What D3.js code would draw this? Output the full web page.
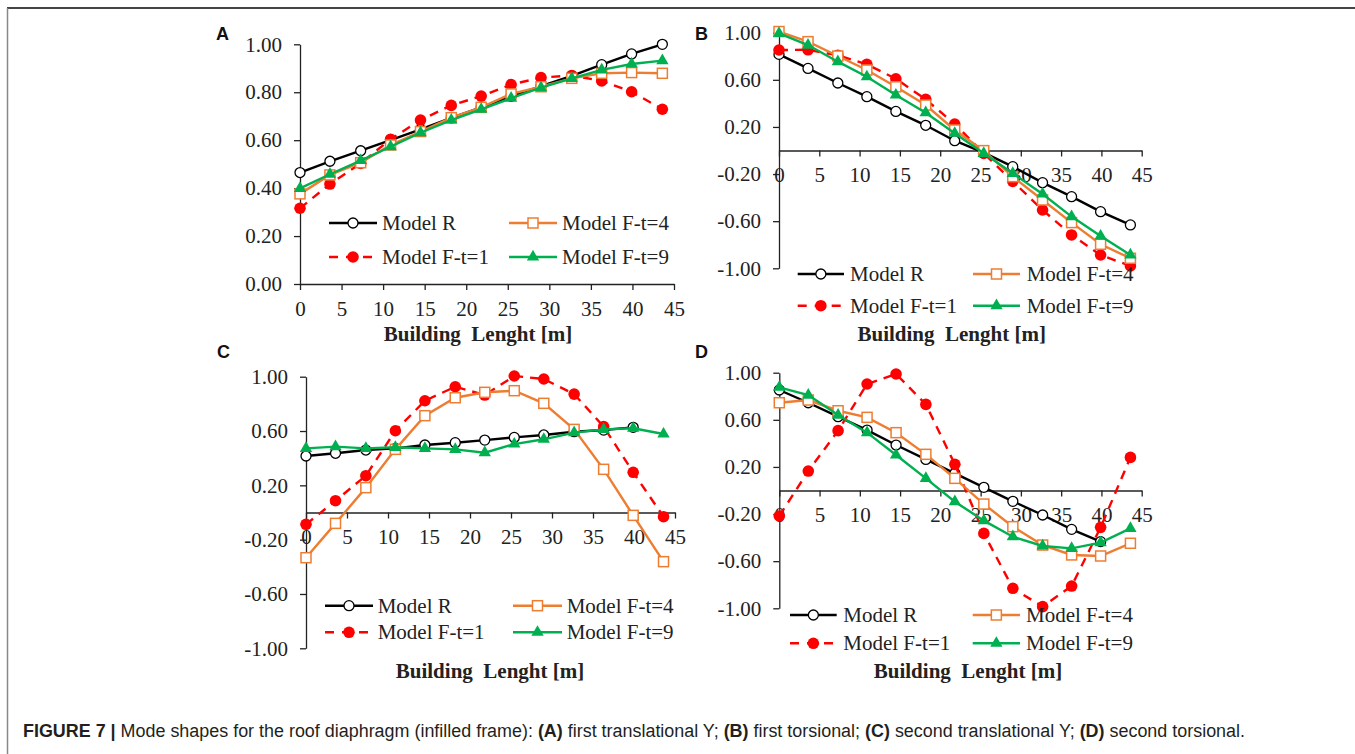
<!DOCTYPE html>
<html lang="en">
<head>
    <meta charset="UTF-8">
    <title>Mode shapes for the roof diaphragm</title>
    <script src="https://d3js.org/d3.v7.min.js"></script>
    <style>
        body { margin: 0; background: #fff; }
        svg { display: block; }
        .tick text { font-family: "Liberation Serif", "Times New Roman", serif; font-size: 21px; fill: #222; }
        .tick line, .domain { stroke: #222; stroke-width: 1.3; }
        .legend text { font-family: "Liberation Serif", "Times New Roman", serif; font-size: 21px; fill: #222; }
        .xlabel { font-family: "Liberation Serif", "Times New Roman", serif; font-size: 21px; font-weight: bold; fill: #222; }
        .letter { font-family: "Liberation Sans", Arial, sans-serif; font-size: 18px; font-weight: bold; fill: #111; }
    </style>
</head>
<body>
<div id="chart"></div>
<script>
// building length positions [m], shared by all four panels
const buildingLength = [0, 3.6, 7.3, 10.9, 14.5, 18.2, 21.8, 25.4, 29.0, 32.7, 36.3, 39.9, 43.6];
const xTicks = [0, 5, 10, 15, 20, 25, 30, 35, 40, 45];
const yTicksA = [0, 0.2, 0.4, 0.6, 0.8, 1.0];
const yTicksBCD = [-1.0, -0.6, -0.2, 0.2, 0.6, 1.0];
const seriesNames = ["Model R", "Model F-t=1", "Model F-t=4", "Model F-t=9"];

// (A) first translational Y
const aModelR  = [0.465, 0.512, 0.556, 0.600, 0.645, 0.693, 0.737, 0.783, 0.825, 0.868, 0.915, 0.960, 1.000];
const aModelF1 = [0.316, 0.417, 0.503, 0.604, 0.684, 0.745, 0.784, 0.832, 0.861, 0.870, 0.847, 0.802, 0.729];
const aModelF4 = [0.376, 0.455, 0.506, 0.580, 0.636, 0.694, 0.737, 0.793, 0.823, 0.858, 0.879, 0.882, 0.879];
const aModelF9 = [0.399, 0.458, 0.515, 0.573, 0.631, 0.684, 0.729, 0.775, 0.819, 0.858, 0.893, 0.918, 0.932];

// (B) first torsional
const bModelR  = [0.816, 0.697, 0.573, 0.457, 0.332, 0.214, 0.083, -0.018, -0.137, -0.273, -0.392, -0.519, -0.632];
const bModelF1 = [0.853, 0.855, 0.808, 0.731, 0.609, 0.434, 0.225, -0.024, -0.262, -0.505, -0.717, -0.887, -0.980];
const bModelF4 = [1.010, 0.924, 0.802, 0.683, 0.541, 0.386, 0.174, -0.001, -0.222, -0.420, -0.612, -0.796, -0.915];
const bModelF9 = [0.994, 0.895, 0.754, 0.626, 0.471, 0.321, 0.146, -0.024, -0.194, -0.369, -0.561, -0.726, -0.887];

// (C) second translational Y
const cModelR  = [0.416, 0.436, 0.460, 0.472, 0.497, 0.514, 0.533, 0.553, 0.571, 0.595, 0.607, 0.627];
const cModelF1 = [-0.087, 0.087, 0.271, 0.602, 0.823, 0.926, 0.865, 1.005, 0.983, 0.872, 0.632, 0.296, -0.031];
const cModelF4 = [-0.333, -0.080, 0.183, 0.465, 0.713, 0.845, 0.885, 0.897, 0.804, 0.612, 0.318, -0.021, -0.362];
const cModelF9 = [0.472, 0.485, 0.472, 0.480, 0.472, 0.465, 0.440, 0.504, 0.539, 0.588, 0.612, 0.620, 0.578];

// (D) second torsional
const dModelR  = [0.853, 0.745, 0.627, 0.513, 0.386, 0.264, 0.146, 0.027, -0.092, -0.208, -0.330, -0.434];
const dModelF1 = [-0.216, 0.165, 0.508, 0.904, 0.989, 0.731, 0.222, -0.364, -0.830, -0.986, -0.811, -0.313, 0.281];
const dModelF4 = [0.745, 0.768, 0.677, 0.621, 0.491, 0.307, 0.103, -0.115, -0.307, -0.463, -0.547, -0.556, -0.448];
const dModelF9 = [0.876, 0.810, 0.640, 0.491, 0.301, 0.103, -0.095, -0.256, -0.392, -0.471, -0.491, -0.443, -0.321];

const width = 1355, height = 754;

// plain hyphen for negatives, like the original labels
const locale = d3.formatLocale({ decimal: ".", thousands: ",", grouping: [3], currency: ["", ""], minus: "-" });
const yFormat = locale.format(".2f");

const svg = d3.select("#chart").append("svg")
    .attr("width", width)
    .attr("height", height);

svg.append("rect").attr("width", width).attr("height", height).attr("fill", "#fff");

// figure frame (top and left edges only visible)
svg.append("line").attr("x1", 7).attr("x2", width).attr("y1", 8).attr("y2", 8)
    .attr("stroke", "#444").attr("stroke-width", 2);
svg.append("line").attr("x1", 7.5).attr("x2", 7.5).attr("y1", 8).attr("y2", height)
    .attr("stroke", "#888").attr("stroke-width", 1.5);

// series styles
const styles = [
    { color: "#000000", marker: "circle", dash: null },
    { color: "#ff0000", marker: "dot", dash: "9,7" },
    { color: "#ed7d31", marker: "square", dash: null },
    { color: "#00b050", marker: "triangle", dash: null }
];

function drawMarker(g, type, color, cx, cy) {
    if (type === "circle") {
        g.append("circle").attr("cx", cx).attr("cy", cy).attr("r", 5)
            .attr("fill", "#fff").attr("stroke", color).attr("stroke-width", 1.3);
    } else if (type === "dot") {
        g.append("circle").attr("cx", cx).attr("cy", cy).attr("r", 5.8)
            .attr("fill", color);
    } else if (type === "square") {
        g.append("rect").attr("x", cx - 5).attr("y", cy - 5).attr("width", 10).attr("height", 10)
            .attr("fill", "#fff").attr("stroke", color).attr("stroke-width", 1.5);
    } else {
        g.append("path").attr("d", d3.symbol(d3.symbolTriangle, 66)())
            .attr("transform", `translate(${cx},${cy})`)
            .attr("fill", color);
    }
}

// panel layout
const panels = [
    { letter: "A", lx: 216, ly: 40, x0: 300, x1: 674, yTop: 44.3, yBot: 284, dom: [0, 1], ticks: yTicksA,
      series: [aModelR, aModelF1, aModelF4, aModelF9],
      legend: { rows: [223, 257], cols: [[329, 377, 382], [509, 557, 562]] }, title: [478, 341] },
    { letter: "B", lx: 695, ly: 40, x0: 779, x1: 1141.7, yTop: 32.7, yBot: 268.3, dom: [-1, 1], ticks: yTicksBCD,
      series: [bModelR, bModelF1, bModelF4, bModelF9],
      legend: { rows: [274, 305.7], cols: [[797.7, 844, 850], [973, 1020, 1026.7]] }, title: [951.7, 341] },
    { letter: "C", lx: 217, ly: 358, x0: 306, x1: 675, yTop: 376.7, yBot: 648.3, dom: [-1, 1], ticks: yTicksBCD,
      series: [cModelR, cModelF1, cModelF4, cModelF9],
      legend: { rows: [605.7, 632.3], cols: [[325, 373, 377.7], [513, 562, 566.7]] }, title: [490, 678] },
    { letter: "D", lx: 695, ly: 358, x0: 779.3, x1: 1141.7, yTop: 372.7, yBot: 608.3, dom: [-1, 1], ticks: yTicksBCD,
      series: [dModelR, dModelF1, dModelF4, dModelF9],
      legend: { rows: [615, 643.3], cols: [[790, 836.7, 843.3], [972.7, 1020, 1026]] }, title: [968, 678] }
];

panels.forEach(p => {
    const g = svg.append("g");

    const x = d3.scaleLinear().domain([0, 45]).range([p.x0, p.x1]);
    const y = d3.scaleLinear().domain(p.dom).range([p.yBot, p.yTop]);

    g.append("text").attr("class", "letter").attr("x", p.lx).attr("y", p.ly).text(p.letter);

    // axes
    g.append("g")
        .attr("transform", `translate(0,${y(0)})`)
        .call(d3.axisBottom(x).tickValues(xTicks).tickSize(6).tickSizeOuter(0).tickPadding(11).tickFormat(d3.format("d")));

    g.append("g")
        .attr("transform", `translate(${p.x0},0)`)
        .call(d3.axisLeft(y).tickValues(p.ticks).tickSize(6).tickSizeOuter(0).tickPadding(12).tickFormat(yFormat));

    g.append("text").attr("class", "xlabel")
        .attr("x", p.title[0]).attr("y", p.title[1])
        .attr("text-anchor", "middle")
        .style("white-space", "pre")
        .text("Building  Lenght [m]");

    // series
    p.series.forEach((vals, i) => {
        const st = styles[i];
        const pts = vals.map((v, k) => [buildingLength[k], v]);
        const line = d3.line().x(d => x(d[0])).y(d => y(d[1]));
        g.append("path")
            .attr("d", line(pts))
            .attr("fill", "none")
            .attr("stroke", st.color)
            .attr("stroke-width", 2.4)
            .attr("stroke-dasharray", st.dash);
        const mg = g.append("g");
        pts.forEach(d => drawMarker(mg, st.marker, st.color, x(d[0]), y(d[1])));
    });

    // legend
    const lg = g.append("g").attr("class", "legend");
    const order = [[0, 0, 0], [2, 0, 1], [1, 1, 0], [3, 1, 1]];
    order.forEach(([si, r, c]) => {
        const st = styles[si];
        const cy = p.legend.rows[r];
        const [lx0, lx1, tx] = p.legend.cols[c];
        lg.append("line")
            .attr("x1", lx0).attr("x2", lx1).attr("y1", cy).attr("y2", cy)
            .attr("stroke", st.color).attr("stroke-width", 2.4)
            .attr("stroke-dasharray", st.dash ? "9,8" : null);
        drawMarker(lg, st.marker, st.color, (lx0 + lx1) / 2, cy);
        lg.append("text").attr("x", tx).attr("y", cy + 7).text(seriesNames[si]);
    });
});

// caption
const cap = svg.append("text")
    .attr("x", 23).attr("y", 737)
    .attr("textLength", 1222)
    .attr("lengthAdjust", "spacingAndGlyphs")
    .style("font-family", "'Liberation Sans', Arial, sans-serif")
    .style("font-size", "18px")
    .style("fill", "#231f20");
const parts = [
    ["FIGURE 7 | ", true], ["Mode shapes for the roof diaphragm (infilled frame): ", false],
    ["(A)", true], [" first translational Y; ", false],
    ["(B)", true], [" first torsional; ", false],
    ["(C)", true], [" second translational Y; ", false],
    ["(D)", true], [" second torsional.", false]
];
parts.forEach(([t, b]) => {
    cap.append("tspan").style("font-weight", b ? "bold" : "normal").style("white-space", "pre").text(t);
});
</script>
</body>
</html>
